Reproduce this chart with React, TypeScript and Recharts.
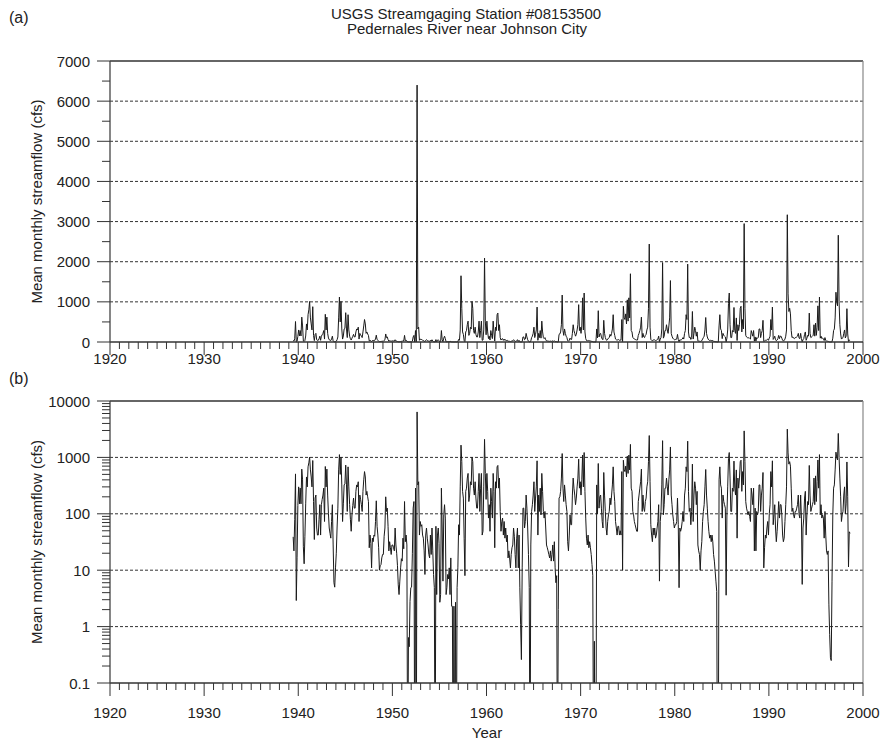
import { LineChart, Line, XAxis, YAxis, ReferenceLine } from "recharts";

// Mean monthly streamflow (cfs), USGS 08153500.
// 1939 starts in June; 1998 ends in August. Zero = no flow.
const flow1939 = [39, 22, 80, 510, 2.9, 17, 141];

const flow1940s = [
  [300, 150, 285, 150, 620, 400, 26, 13, 40, 150, 450, 300],
  [680, 800, 1010, 600, 450, 300, 880, 165, 35, 190, 215, 56],
  [42, 42, 80, 145, 42, 145, 180, 215, 285, 73, 690, 300],
  [620, 215, 100, 56, 45, 37, 73, 145, 28, 6, 5, 11],
  [20, 56, 126, 600, 1120, 500, 1010, 325, 73, 150, 325, 340],
  [730, 325, 110, 680, 300, 145, 80, 49, 96, 140, 190, 126],
  [126, 250, 325, 300, 370, 73, 215, 180, 145, 110, 250, 400],
  [560, 450, 215, 250, 200, 165, 25, 42, 30, 11, 37, 32],
  [42, 40, 73, 170, 60, 42, 25, 10, 12, 12.6, 16.5, 19],
  [19, 40, 56, 200, 110, 126, 60, 22, 32, 25, 19, 28],
];

const flow1950s = [
  [28, 25, 22, 56, 28, 20, 12, 5.5, 3.7, 6.4, 11, 16],
  [14.5, 37, 24, 165, 32, 42, 28, 0, 0.64, 0.44, 2.8, 4.9],
  [5, 20, 126, 165, 0, 285, 0, 6400, 325, 370, 42, 73],
  [60, 64, 42, 37, 22, 8.4, 42, 56, 37, 28, 19, 16.5],
  [42, 19, 56, 22, 8.4, 4.9, 0, 60, 3.7, 42, 56, 30],
  [2.7, 3.7, 285, 56, 6.4, 96, 145, 84, 3.7, 4.9, 8.4, 7],
  [11, 3.7, 16.5, 2.3, 2.3, 0, 2.3, 0, 2.7, 0, 4.9, 11],
  [64, 42, 300, 1650, 840, 250, 190, 37, 8, 250, 285, 430],
  [520, 165, 215, 370, 325, 1010, 840, 285, 215, 370, 190, 126],
  [126, 250, 520, 110, 285, 520, 42, 49, 300, 2090, 520, 180],
];

const flow1960s = [
  [520, 250, 84, 145, 49, 285, 165, 84, 520, 250, 25, 370],
  [285, 680, 720, 285, 430, 110, 49, 73, 84, 42, 73, 37],
  [56, 32, 42, 16.5, 22, 16.5, 11, 19, 25, 28, 56, 40],
  [19, 11, 37, 56, 11, 42, 5, 1.1, 0.26, 11, 126, 126],
  [56, 73, 215, 126, 56, 19, 4.9, 0, 28, 110, 145, 215],
  [370, 110, 190, 300, 870, 42, 215, 110, 285, 96, 520, 250],
  [110, 84, 110, 56, 28, 25, 22, 19, 16.5, 22, 14.5, 19],
  [28, 14.5, 32, 11, 6, 8, 0, 2, 190, 200, 250, 430],
  [1170, 285, 165, 325, 215, 145, 110, 32, 22, 42, 96, 64],
  [64, 215, 430, 285, 215, 145, 190, 300, 430, 930, 285, 370],
];

const flow1970s = [
  [215, 400, 1100, 300, 1220, 250, 84, 37, 28, 42, 25, 32],
  [25, 19, 12.6, 8, 0, 0.55, 0, 0, 325, 100, 780, 126],
  [200, 215, 126, 73, 56, 540, 215, 110, 56, 42, 73, 96],
  [110, 190, 145, 215, 325, 680, 250, 165, 73, 56, 42, 60],
  [60, 42, 50, 42, 560, 10, 890, 600, 560, 700, 450, 1050],
  [520, 1100, 600, 1700, 285, 250, 110, 96, 73, 64, 56, 49],
  [49, 165, 215, 285, 370, 620, 110, 215, 126, 110, 165, 190],
  [300, 370, 840, 2440, 370, 64, 42, 32, 56, 42, 56, 37],
  [42, 56, 73, 145, 6.4, 73, 110, 325, 1980, 96, 145, 285],
  [285, 430, 300, 215, 400, 600, 1530, 215, 145, 96, 73, 56],
];

const flow1980s = [
  [64, 64, 73, 190, 64, 4.9, 56, 49, 56, 73, 110, 73],
  [215, 285, 680, 560, 1940, 250, 110, 126, 64, 110, 760, 73],
  [215, 370, 285, 145, 250, 28, 22, 19, 10, 22, 32, 73],
  [110, 145, 300, 610, 215, 126, 73, 49, 37, 42, 32, 42],
  [32, 19, 14.5, 9.6, 6.4, 4.2, 0, 0, 400, 680, 325, 285],
  [84, 215, 165, 145, 126, 3.6, 96, 300, 960, 1220, 430, 110],
  [110, 285, 250, 860, 285, 215, 600, 37, 430, 285, 430, 840],
  [890, 250, 560, 325, 2950, 840, 165, 126, 110, 96, 110, 90],
  [73, 285, 215, 145, 285, 22, 126, 22, 110, 96, 110, 325],
  [325, 110, 215, 285, 540, 11, 25, 42, 37, 56, 73, 42],
];

const flow1990s = [
  [100, 145, 560, 300, 870, 64, 96, 145, 56, 32, 49, 84],
  [165, 84, 145, 145, 96, 42, 32, 37, 73, 145, 300, 3170],
  [1200, 760, 840, 700, 285, 110, 126, 96, 84, 110, 110, 126],
  [145, 215, 96, 84, 215, 84, 5.6, 56, 84, 190, 250, 42],
  [96, 165, 145, 720, 215, 110, 126, 145, 165, 430, 145, 470],
  [165, 370, 900, 285, 1120, 96, 145, 84, 96, 84, 37, 110],
  [42, 22, 19, 22, 2.5, 0.73, 0.28, 0.25, 6.4, 96, 285, 325],
  [600, 1240, 1000, 900, 2660, 1000, 430, 200, 73, 96, 110, 215],
  [300, 100, 150, 830, 200, 11.4, 48, 45],
];

const yearTicks = Array.from({ length: 81 }, (_, i) => 1920 + i);
const linearTicks = Array.from({ length: 15 }, (_, i) => i * 500);
const linearGrid = [1000, 2000, 3000, 4000, 5000, 6000];
const logMajor = [0.1, 1, 10, 100, 1000, 10000];
const logTicks = logMajor.flatMap((d, i) =>
  i === logMajor.length - 1
    ? [d]
    : [d, ...[2, 3, 4, 5, 6, 7, 8, 9].map((k) => Number((k * d).toPrecision(2)))]
);
const logGrid = [1, 10, 100, 1000];

// monthly rows, points at mid-month
const rows: { t: number; q: number; qlog: number }[] = [];
const push = (year: number, startMonth: number, vals: number[]) =>
  vals.forEach((q, m) =>
    rows.push({ t: year + (startMonth + m + 0.5) / 12, q, qlog: q > 0 ? q : 0.001 })
  );
push(1939, 5, flow1939);
[flow1940s, flow1950s, flow1960s, flow1970s, flow1980s, flow1990s].forEach((dec, di) =>
  dec.forEach((vals, yi) => push(1940 + di * 10 + yi, 0, vals))
);

const FONT = "'Liberation Sans', Arial, Helvetica, sans-serif";
const INK = "#222";

const XTick = ({ x, y, payload, labelDy }: any) => {
  const major = payload.value % 10 === 0;
  return (
    <g>
      <line x1={x} x2={x} y1={y} y2={y + (major ? 13 : 7)} stroke="#333" strokeWidth={1} />
      {major && (
        <text x={x} y={y + labelDy} textAnchor="middle" fontSize={15} fill={INK} fontFamily={FONT}>
          {payload.value}
        </text>
      )}
    </g>
  );
};

const YTick = ({ x, y, payload, isMajor }: any) => {
  const major = isMajor(payload.value);
  return (
    <g>
      <line x1={x - (major ? 13 : 8)} x2={x} y1={y} y2={y} stroke="#333" strokeWidth={1} />
      {major && (
        <text x={x - 20} y={y + 5.5} textAnchor="end" fontSize={15} fill={INK} fontFamily={FONT}>
          {String(payload.value)}
        </text>
      )}
    </g>
  );
};

const Panel = ({ log, top, height, marginTop, labelDy }: any) => (
  <div style={{ position: "absolute", left: 0, top }}>
    <LineChart
      width={882}
      height={height}
      data={rows}
      margin={{ top: marginTop, right: 19, bottom: 0, left: 0 }}
    >
      <XAxis
        dataKey="t"
        type="number"
        domain={[1920, 2000]}
        ticks={yearTicks}
        interval={0}
        height={45}
        tickSize={0}
        tickMargin={0}
        tickLine={false}
        axisLine={{ stroke: "#333", strokeWidth: 1.3 }}
        tick={(p: any) => <XTick {...p} labelDy={labelDy} />}
      />
      {log ? (
        <YAxis
          scale="log"
          type="number"
          domain={[0.1, 10000]}
          allowDataOverflow
          ticks={logTicks}
          interval={0}
          width={110}
          tickSize={0}
          tickMargin={0}
          tickLine={false}
          axisLine={{ stroke: "#444", strokeWidth: 1.3 }}
          tick={(p: any) => <YTick {...p} isMajor={(v: number) => logMajor.includes(v)} />}
        />
      ) : (
        <YAxis
          type="number"
          domain={[0, 7000]}
          ticks={linearTicks}
          interval={0}
          width={110}
          tickSize={0}
          tickMargin={0}
          tickLine={false}
          axisLine={{ stroke: "#444", strokeWidth: 1.3 }}
          tick={(p: any) => <YTick {...p} isMajor={(v: number) => v % 1000 === 0} />}
        />
      )}
      {(log ? logGrid : linearGrid).map((g) => (
        <ReferenceLine key={g} y={g} stroke="#333" strokeDasharray="3 2" strokeWidth={1} />
      ))}
      <ReferenceLine y={log ? 10000 : 7000} stroke="#333" strokeWidth={1.3} />
      <ReferenceLine x={2000} stroke="#888" strokeWidth={1.2} />
      <Line
        type="linear"
        dataKey={log ? "qlog" : "q"}
        stroke="#1a1a1a"
        strokeWidth={1}
        dot={false}
        isAnimationActive={false}
      />
    </LineChart>
  </div>
);

const App = () => (
  <div style={{ position: "absolute", left: 0, top: 0, width: 882, height: 743, background: "#fff" }}>
    {/* plot (a): 110..863 x 61..342 */}
    <Panel log={false} top={0} height={387} marginTop={61} labelDy={22} />
    {/* plot (b): 110..863 x 401..683 */}
    <Panel log top={380} height={348} marginTop={21} labelDy={35} />
    <svg
      width={882}
      height={743}
      style={{ position: "absolute", left: 0, top: 0, pointerEvents: "none" }}
      fontFamily={FONT}
      fill={INK}
    >
      <text x={9} y={23} fontSize={16}>(a)</text>
      <text x={9} y={384} fontSize={16}>(b)</text>
      <text x={466} y={19} fontSize={15} textAnchor="middle">USGS Streamgaging Station #08153500</text>
      <text x={467} y={34} fontSize={15} textAnchor="middle">Pedernales River near Johnson City</text>
      <text transform="translate(42,201.5) rotate(-90)" fontSize={15} textAnchor="middle">
        Mean monthly streamflow (cfs)
      </text>
      <text transform="translate(42,542) rotate(-90)" fontSize={15} textAnchor="middle">
        Mean monthly streamflow (cfs)
      </text>
      <text x={487} y={738} fontSize={15} textAnchor="middle">Year</text>
    </svg>
  </div>
);

export default App;
